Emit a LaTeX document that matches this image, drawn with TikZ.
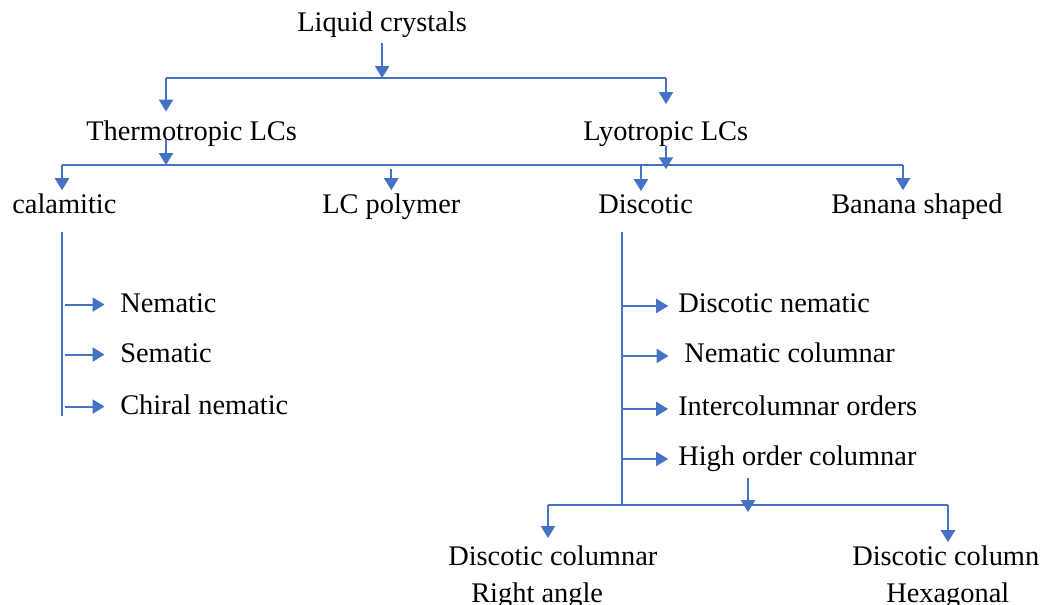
\documentclass[tikz,border=0pt]{standalone}
\usepackage{fontspec}
\setmainfont{Liberation Serif}
\definecolor{linkblue}{RGB}{68,114,196}
\usetikzlibrary{arrows.meta}

\begin{document}
\begin{tikzpicture}[x=0.025cm, y=-0.025cm,
    every node/.style={anchor=base west, inner sep=0pt, font=\fontsize{20.2}{24}\selectfont},
    link/.style={draw=linkblue, line width=1.4pt},
    tip/.style={link, -{Triangle[length=8.5pt, width=10pt]}}]
    \useasboundingbox (0,0) rectangle (1041,605);

    % text
    \node (lc) at (297,31) {Liquid crystals};
    \node (thermo) at (86,140) {Thermotropic LCs};
    \node (lyo) at (583,140) {Lyotropic LCs};
    \node (cal) at (12,213) {calamitic};
    \node (poly) at (322,213) {LC polymer};
    \node (disc) at (598,213) {Discotic};
    \node (banana) at (831,213) {Banana shaped};
    \node (nem) at (120,312) {Nematic};
    \node (sem) at (120,362) {Sematic};
    \node (chiral) at (120,414) {Chiral nematic};
    \node (dnem) at (678,312) {Discotic nematic};
    \node (ncol) at (684,362) {Nematic columnar};
    \node (inter) at (678,415) {Intercolumnar orders};
    \node (high) at (678,465) {High order columnar};
    \node (dcol) at (448,565) {Discotic columnar};
    \node (rangle) at (471,602) {Right angle};
    \node (dcolumn) at (852,565) {Discotic column};
    \node (hexa) at (886,602) {Hexagonal};

    % branch points
    \coordinate (a1) at (166,78);
    \coordinate (a2) at (666,78);
    \coordinate (b1) at (62,165);
    \coordinate (b2) at (903,165);
    \coordinate (b3) at (641,165);
    \coordinate (dv) at (622,505);
    \coordinate (hv) at (748,505);
    \coordinate (c1) at (548,505);
    \coordinate (c2) at (948,505);

    % first level
    \draw[tip] ([yshift=-4pt]lc.south) -- (lc.south |- a1);
    \draw[link] (a1) -- (a2);
    \draw[tip] (a1) -- ([yshift=6pt]thermo.north -| a1);
    \draw[tip] (a2) -- ([yshift=12pt]lyo.north -| a2);

    % second level
    \draw[link] (b1) -- (b2);
    \draw[tip] ([yshift=5pt]thermo.south -| a1) -- (a1 |- b1);
    \draw[tip] (lyo.south -| a2) -- ([yshift=-3pt]a2 |- b1);
    \draw[tip] (b1) -- ([yshift=2pt]cal.north -| b1);
    \draw[tip] ([yshift=-3pt]poly.north |- b1) -- ([yshift=2pt]poly.north);
    \draw[tip] (b3) -- ([yshift=2pt]disc.north -| b3);
    \draw[tip] (b2) -- ([yshift=2pt]banana.north -| b2);

    % calamitic
    \draw[link] ([yshift=-13pt]cal.south -| b1) -- ([yshift=-1pt]chiral.south -| b1);
    \foreach \n in {nem,sem,chiral}
        \draw[tip, shorten >=11pt] ([xshift=2pt, yshift=3pt]b1 |- \n.mid) -- ([yshift=3pt]\n.mid west);

    % discotic
    \draw[link] ([yshift=-13pt]disc.south -| dv) -- (dv);
    \foreach \n/\s in {dnem/7pt, ncol/11pt, inter/7pt, high/7pt}
        \draw[tip, shorten >=\s] ([yshift=2pt]dv |- \n.mid) -- ([yshift=2pt]\n.mid west);
    \draw[link] (c1) -- (c2);
    \draw[tip] ([yshift=-5pt]high.south -| hv) -- ([yshift=-5pt]hv);
    \draw[tip] (c1) -- ([yshift=5pt]dcol.north -| c1);
    \draw[tip] (c2) -- ([yshift=2pt]dcolumn.north -| c2);
\end{tikzpicture}
\end{document}
